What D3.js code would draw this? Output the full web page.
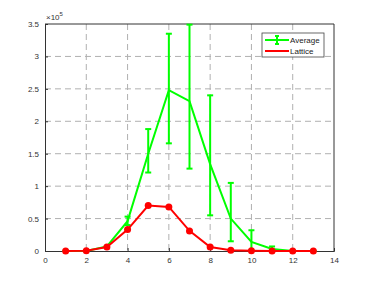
<!DOCTYPE html>
<html>
<head>
<meta charset="utf-8">
<script src="https://cdn.jsdelivr.net/npm/d3@7"></script>
<style>
  body { margin: 0; background: #fff; }
  svg { display: block; font-family: "Liberation Sans", Arial, sans-serif; }
</style>
</head>
<body>
<div id="chart"></div>
<script>
// data (values in units of 1e5)
const xs = [1, 2, 3, 4, 5, 6, 7, 8, 9, 10, 11, 12, 13];
const averageVals = [0, 0, 0.07, 0.46, 1.5, 2.48, 2.31, 1.34, 0.5, 0.14, 0.03, 0, 0];
const averageLow = [0, 0, 0.06, 0.4, 1.21, 1.66, 1.27, 0.55, 0.15, 0.0, 0.0, 0, 0];
const averageHigh = [0, 0, 0.08, 0.53, 1.88, 3.35, 3.49, 2.4, 1.05, 0.32, 0.07, 0, 0];
const latticeVals = [0, 0.005, 0.06, 0.33, 0.7, 0.68, 0.31, 0.06, 0.01, 0.005, 0, 0, 0];
const xTicks = [0, 2, 4, 6, 8, 10, 12, 14];
const yTicks = [0, 0.5, 1, 1.5, 2, 2.5, 3, 3.5];

const width = 374, height = 286;
const margin = { top: 24, right: 40, bottom: 35, left: 45 };
const innerW = width - margin.left - margin.right;
const innerH = height - margin.top - margin.bottom;

const svg = d3.select("#chart").append("svg")
    .attr("width", width)
    .attr("height", height);

const g = svg.append("g")
    .attr("transform", `translate(${margin.left},${margin.top})`);

const x = d3.scaleLinear().domain([0, 14]).range([0, innerW]);
const y = d3.scaleLinear().domain([0, 3.5]).range([innerH, 0]);

// grid
g.append("g").selectAll("line")
    .data(xTicks.slice(1, -1))
    .enter().append("line")
    .attr("x1", d => x(d)).attr("x2", d => x(d))
    .attr("y1", 0).attr("y2", innerH)
    .attr("stroke", "#b0b0b0")
    .attr("stroke-dasharray", "6,4");

g.append("g").selectAll("line")
    .data(yTicks.slice(1, -1))
    .enter().append("line")
    .attr("y1", d => y(d)).attr("y2", d => y(d))
    .attr("x1", 0).attr("x2", innerW)
    .attr("stroke", "#b0b0b0")
    .attr("stroke-dasharray", "6,4");

// axes
const xAxis = g.append("g")
    .attr("transform", `translate(0,${innerH})`)
    .call(d3.axisBottom(x).tickValues(xTicks).tickSize(-3).tickPadding(6));
const yAxis = g.append("g")
    .call(d3.axisLeft(y).tickValues(yTicks).tickSize(-3).tickPadding(6).tickFormat(d3.format("")));

[xAxis, yAxis].forEach(ax => {
    ax.select(".domain").attr("stroke", "#333");
    ax.selectAll(".tick line").attr("stroke", "#333");
    ax.selectAll("text").attr("fill", "#333").attr("font-size", "8px");
});

// top and right box lines
g.append("line").attr("x1", 0).attr("x2", innerW).attr("y1", 0).attr("y2", 0)
    .attr("stroke", "#333");
g.append("line").attr("x1", innerW).attr("x2", innerW).attr("y1", 0).attr("y2", innerH)
    .attr("stroke", "#333");

// exponent label
const expo = g.append("text")
    .attr("x", 1)
    .attr("y", -4)
    .attr("font-size", "8px")
    .attr("fill", "#333");
expo.append("tspan").text("×10");
expo.append("tspan").attr("dy", -4).attr("font-size", "6px").text("5");

const line = d3.line()
    .x(d => x(d[0]))
    .y(d => y(d[1]));

// average line with error bars
const green = "#00ff00";
g.append("path")
    .datum(xs.map((d, i) => [d, averageVals[i]]))
    .attr("d", line)
    .attr("fill", "none")
    .attr("stroke", green)
    .attr("stroke-width", 2);

const errs = g.append("g").selectAll("g")
    .data(xs.map((d, i) => ({ x: d, lo: averageLow[i], hi: averageHigh[i] })))
    .enter().append("g")
    .attr("stroke", green)
    .attr("stroke-width", 2);

errs.append("line")
    .attr("x1", d => x(d.x)).attr("x2", d => x(d.x))
    .attr("y1", d => y(d.lo)).attr("y2", d => y(d.hi));
errs.append("line")
    .attr("x1", d => x(d.x) - 3).attr("x2", d => x(d.x) + 3)
    .attr("y1", d => y(d.lo)).attr("y2", d => y(d.lo));
errs.append("line")
    .attr("x1", d => x(d.x) - 3).attr("x2", d => x(d.x) + 3)
    .attr("y1", d => y(d.hi)).attr("y2", d => y(d.hi));

// lattice line
const red = "#ff0000";
g.append("path")
    .datum(xs.map((d, i) => [d, latticeVals[i]]))
    .attr("d", line)
    .attr("fill", "none")
    .attr("stroke", red)
    .attr("stroke-width", 2);

g.append("g").selectAll("circle")
    .data(xs.map((d, i) => [d, latticeVals[i]]))
    .enter().append("circle")
    .attr("cx", d => x(d[0]))
    .attr("cy", d => y(d[1]))
    .attr("r", 3.5)
    .attr("fill", red);

// legend
const legend = svg.append("g")
    .attr("transform", "translate(262,33)");
legend.append("rect")
    .attr("width", 62).attr("height", 24)
    .attr("fill", "#fff")
    .attr("stroke", "#444")
    .attr("stroke-width", 0.8);

legend.append("line")
    .attr("x1", 3).attr("x2", 27).attr("y1", 7).attr("y2", 7)
    .attr("stroke", green).attr("stroke-width", 2);
legend.append("line")
    .attr("x1", 15).attr("x2", 15).attr("y1", 3).attr("y2", 11)
    .attr("stroke", green).attr("stroke-width", 2);
legend.append("line")
    .attr("x1", 13).attr("x2", 17).attr("y1", 3).attr("y2", 3)
    .attr("stroke", green).attr("stroke-width", 2);
legend.append("line")
    .attr("x1", 13).attr("x2", 17).attr("y1", 11).attr("y2", 11)
    .attr("stroke", green).attr("stroke-width", 2);
legend.append("text")
    .attr("x", 28).attr("y", 10)
    .attr("font-size", "8px").attr("fill", "#222")
    .text("Average");

legend.append("line")
    .attr("x1", 3).attr("x2", 27).attr("y1", 18).attr("y2", 18)
    .attr("stroke", red).attr("stroke-width", 2);
legend.append("text")
    .attr("x", 28).attr("y", 21)
    .attr("font-size", "8px").attr("fill", "#222")
    .text("Lattice");
</script>
</body>
</html>
